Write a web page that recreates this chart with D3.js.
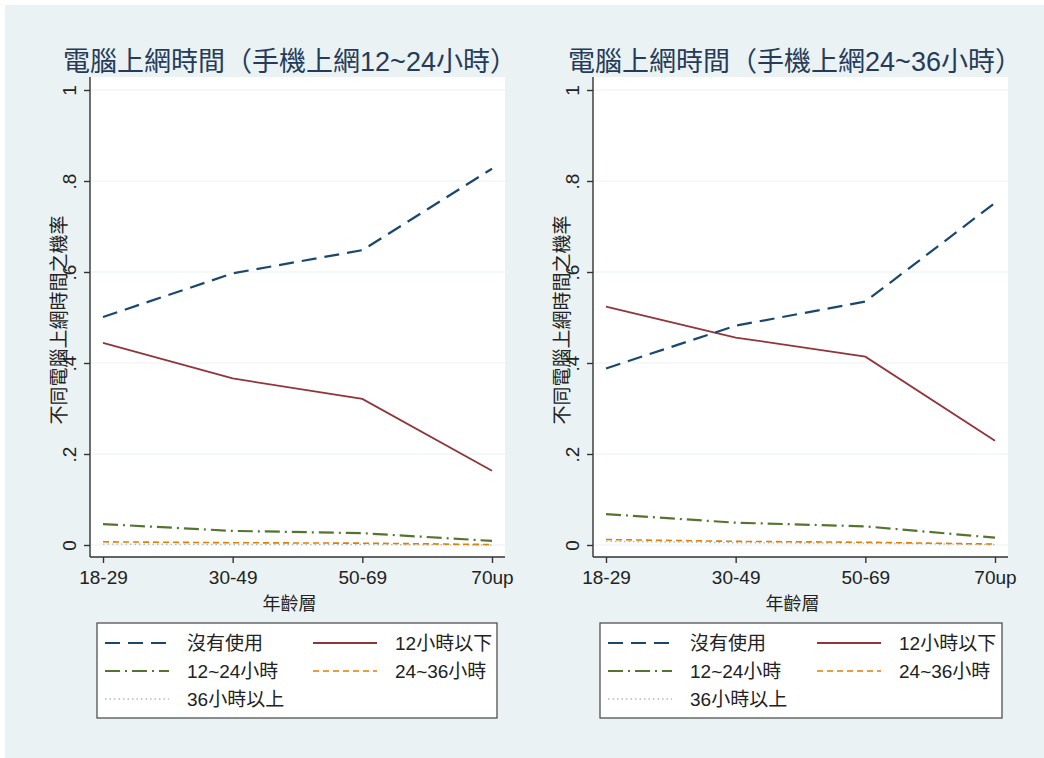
<!DOCTYPE html>
<html>
<head>
<meta charset="utf-8">
<script src="https://cdn.jsdelivr.net/npm/d3@7"></script>
<style>
  body { margin: 0; background: #ffffff; }
  svg { display: block; font-family: "Liberation Sans", "Noto Sans CJK TC", sans-serif; }
</style>
</head>
<body>
<div id="chart"></div>
<script>
// data
var ageGroups = ["18-29", "30-49", "50-69", "70up"];
var seriesNames = ["沒有使用", "12小時以下", "12~24小時", "24~36小時", "36小時以上"];
var panelTitles = ["電腦上網時間（手機上網12~24小時）", "電腦上網時間（手機上網24~36小時）"];
var yTicks = [0, 0.2, 0.4, 0.6, 0.8, 1];
var yTickLabels = ["0", ".2", ".4", ".6", ".8", "1"];

// panel 1 (mobile 12~24h)
var p1None    = [0.501, 0.597, 0.648, 0.827];
var p1Under12 = [0.444, 0.366, 0.321, 0.163];
var p1h12to24 = [0.046, 0.031, 0.026, 0.009];
var p1h24to36 = [0.007, 0.005, 0.004, 0.001];
var p1Over36  = [0.002, 0.001, 0.001, 0.000];

// panel 2 (mobile 24~36h)
var p2None    = [0.388, 0.482, 0.535, 0.752];
var p2Under12 = [0.524, 0.456, 0.414, 0.229];
var p2h12to24 = [0.068, 0.049, 0.041, 0.016];
var p2h24to36 = [0.012, 0.008, 0.006, 0.002];
var p2Over36  = [0.008, 0.005, 0.004, 0.001];

//Config
var W = 1044, H = 758;
var bgColor = "#eaf2f3";
var styles = [
  {color: "#1a476f", width: 2.2, dash: "15,8"},
  {color: "#90353b", width: 1.8, dash: null},
  {color: "#55752f", width: 2.2, dash: "15,5,2,5"},
  {color: "#e37e00", width: 1.6, dash: "6,4"},
  {color: "#a9c0bb", width: 1.4, dash: "1.5,3"}
];
var panels = [
  {x0: 90, x1: 505, title: panelTitles[0], titleX: 290, series: [p1None, p1Under12, p1h12to24, p1h24to36, p1Over36], legX: 97, legW: 400},
  {x0: 593, x1: 1008, title: panelTitles[1], titleX: 795, series: [p2None, p2Under12, p2h12to24, p2h24to36, p2Over36], legX: 600, legW: 402}
];
var plotTop = 77, plotBottom = 557;

var svg = d3.select("#chart").append("svg")
  .attr("width", W)
  .attr("height", H);

svg.append("rect")
  .attr("x", 5).attr("y", 5)
  .attr("width", W - 5).attr("height", H - 5)
  .attr("fill", bgColor);

var y = d3.scaleLinear().domain([0, 1]).range([545, 90]);

panels.forEach(function(p) {
  var x = d3.scalePoint().domain(ageGroups).range([p.x0 + 13, p.x1 - 13]);
  var g = svg.append("g");

  g.append("rect")
    .attr("x", p.x0).attr("y", plotTop)
    .attr("width", p.x1 - p.x0).attr("height", plotBottom - plotTop)
    .attr("fill", "#ffffff");

  g.selectAll(".grid")
    .data(yTicks)
    .enter()
    .append("line")
    .attr("x1", p.x0).attr("x2", p.x1)
    .attr("y1", function(d) { return y(d); })
    .attr("y2", function(d) { return y(d); })
    .attr("stroke", bgColor)
    .attr("stroke-width", 1.2);

  // y axis
  var ya = g.append("g")
    .attr("transform", "translate(" + p.x0 + ",0)")
    .call(d3.axisLeft(y).tickValues(yTicks).tickSize(6)
      .tickFormat(function(d, i) { return yTickLabels[i]; }));
  ya.select(".domain").attr("d", "M0," + plotTop + "V" + plotBottom);
  ya.selectAll("text").remove();
  ya.selectAll(".tick")
    .append("text")
    .attr("transform", "translate(-14,0) rotate(-90)")
    .attr("text-anchor", "middle")
    .attr("dy", "0")
    .attr("fill", "#222")
    .style("font-size", "19px")
    .text(function(d, i) { return yTickLabels[i]; });

  // x axis
  var xa = g.append("g")
    .attr("transform", "translate(0," + plotBottom + ")")
    .call(d3.axisBottom(x).tickSize(6).tickPadding(8));
  xa.select(".domain").attr("d", "M" + p.x0 + ",0H" + p.x1);
  xa.selectAll("text")
    .attr("fill", "#222")
    .style("font-size", "19px");
  g.selectAll(".domain, .tick line").attr("stroke", "#333").attr("stroke-width", 1.4);

  g.append("text")
    .attr("x", (p.x0 + p.x1) / 2 - 8)
    .attr("y", 610)
    .attr("text-anchor", "middle")
    .attr("fill", "#222")
    .style("font-size", "18px")
    .text("年齡層");

  g.append("text")
    .attr("transform", "translate(" + (p.x0 - 24) + ",320) rotate(-90)")
    .attr("text-anchor", "middle")
    .attr("fill", "#222")
    .style("font-size", "19px")
    .text("不同電腦上網時間之機率");

  g.append("text")
    .attr("x", p.titleX)
    .attr("y", 71)
    .attr("text-anchor", "middle")
    .attr("fill", "#263b5a")
    .style("font-size", "27px")
    .text(p.title);

  var line = d3.line()
    .x(function(d, i) { return x(ageGroups[i]); })
    .y(function(d) { return y(d); });

  // draw last series first so the navy/maroon sit on top
  p.series.slice().reverse().forEach(function(vals, k) {
    var s = styles[p.series.length - 1 - k];
    g.append("path")
      .attr("d", line(vals))
      .attr("fill", "none")
      .attr("stroke", s.color)
      .attr("stroke-width", s.width)
      .attr("stroke-dasharray", s.dash);
  });

  // legend
  var leg = g.append("g");
  leg.append("rect")
    .attr("x", p.legX).attr("y", 623)
    .attr("width", p.legW).attr("height", 95)
    .attr("fill", "#ffffff")
    .attr("stroke", "#444")
    .attr("stroke-width", 1.2);
  var rowY = [643, 671, 699];
  var items = leg.selectAll(".item")
    .data(seriesNames)
    .enter()
    .append("g")
    .attr("transform", function(d, i) {
      var col = i % 2, row = Math.floor(i / 2);
      return "translate(" + (p.legX + 8 + col * (p.legW * 0.5 + 8)) + "," + rowY[row] + ")";
    });
  items.append("line")
    .attr("x1", 0).attr("x2", 64)
    .attr("stroke", function(d, i) { return styles[i].color; })
    .attr("stroke-width", function(d, i) { return styles[i].width; })
    .attr("stroke-dasharray", function(d, i) { return styles[i].dash; });
  items.append("text")
    .attr("x", 82)
    .attr("dy", "0.36em")
    .attr("fill", "#222")
    .style("font-size", "19px")
    .text(function(d) { return d; });
});
</script>
</body>
</html>
